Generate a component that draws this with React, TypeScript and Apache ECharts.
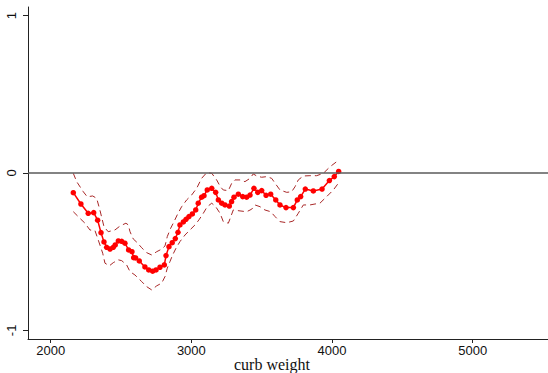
import React, { useEffect, useRef } from "react";
import * as echarts from "echarts";

const xTicks = [2000, 3000, 4000, 5000];
const yTicks = [-1, 0, 1];
const xTitle = "curb weight";

const fitX = [2161, 2215, 2267, 2306, 2334, 2358, 2379, 2398, 2422, 2445, 2459, 2481, 2505, 2528, 2554, 2578, 2590, 2604, 2630, 2670, 2697, 2725, 2749, 2777, 2808, 2820, 2841, 2864, 2886, 2905, 2919, 2943, 2962, 2983, 3007, 3031, 3049, 3073, 3090, 3113, 3145, 3173, 3192, 3216, 3239, 3270, 3286, 3303, 3334, 3365, 3393, 3417, 3445, 3472, 3500, 3531, 3564, 3600, 3630, 3673, 3725, 3753, 3777, 3810, 3867, 3929, 3981, 4016, 4047];
const fitY = [-0.125, -0.197, -0.256, -0.252, -0.3, -0.379, -0.438, -0.472, -0.483, -0.472, -0.457, -0.432, -0.434, -0.446, -0.489, -0.5, -0.538, -0.54, -0.559, -0.597, -0.616, -0.624, -0.616, -0.599, -0.584, -0.525, -0.468, -0.443, -0.417, -0.377, -0.33, -0.311, -0.294, -0.277, -0.26, -0.235, -0.192, -0.154, -0.144, -0.108, -0.097, -0.123, -0.171, -0.192, -0.203, -0.21, -0.182, -0.154, -0.135, -0.15, -0.154, -0.14, -0.097, -0.123, -0.112, -0.142, -0.135, -0.171, -0.203, -0.22, -0.22, -0.171, -0.15, -0.102, -0.114, -0.102, -0.048, -0.023, 0.01];

const upperX = [2161, 2185, 2232, 2260, 2299, 2327, 2350, 2379, 2409, 2457, 2493, 2535, 2552, 2564, 2587, 2616, 2647, 2682, 2718, 2754, 2789, 2813, 2829, 2853, 2877, 2903, 2931, 2967, 3002, 3038, 3073, 3109, 3145, 3180, 3206, 3227, 3263, 3287, 3310, 3346, 3381, 3417, 3440, 3465, 3500, 3536, 3571, 3595, 3630, 3678, 3713, 3737, 3760, 3796, 3843, 3891, 3938, 3986, 4033, 4050];
const upperY = [-0.002, -0.055, -0.119, -0.151, -0.146, -0.161, -0.235, -0.341, -0.373, -0.362, -0.337, -0.319, -0.33, -0.373, -0.419, -0.443, -0.475, -0.506, -0.521, -0.5, -0.484, -0.463, -0.404, -0.351, -0.309, -0.26, -0.214, -0.171, -0.14, -0.097, -0.034, 0.002, -0.002, -0.044, -0.087, -0.108, -0.112, -0.065, -0.044, -0.044, -0.055, -0.034, -0.006, -0.019, -0.027, -0.023, -0.034, -0.065, -0.108, -0.123, -0.119, -0.087, -0.044, -0.019, -0.017, -0.017, -0.002, 0.04, 0.072, 0.086];

const lowerX = [2161, 2208, 2244, 2279, 2315, 2338, 2370, 2386, 2417, 2445, 2481, 2505, 2540, 2564, 2599, 2623, 2647, 2682, 2718, 2754, 2789, 2813, 2829, 2848, 2867, 2891, 2919, 2955, 2990, 3026, 3054, 3085, 3113, 3145, 3173, 3204, 3227, 3263, 3298, 3346, 3393, 3429, 3452, 3488, 3523, 3564, 3595, 3630, 3678, 3725, 3760, 3796, 3843, 3879, 3914, 3962, 4009, 4045];
const lowerY = [-0.246, -0.288, -0.319, -0.362, -0.366, -0.425, -0.51, -0.573, -0.59, -0.57, -0.552, -0.557, -0.584, -0.627, -0.648, -0.669, -0.69, -0.722, -0.743, -0.717, -0.7, -0.658, -0.605, -0.563, -0.521, -0.478, -0.436, -0.394, -0.362, -0.33, -0.298, -0.256, -0.214, -0.192, -0.214, -0.256, -0.309, -0.319, -0.235, -0.241, -0.246, -0.23, -0.203, -0.214, -0.235, -0.246, -0.277, -0.309, -0.316, -0.305, -0.256, -0.203, -0.203, -0.197, -0.192, -0.15, -0.108, -0.065];

const zip = (xs: number[], ys: number[]) => xs.map((x, i) => [x, ys[i]]);

export default function App() {
  const ref = useRef<HTMLDivElement>(null);
  useEffect(() => {
    if (!ref.current) return;
    const chart = echarts.init(ref.current, null, { renderer: "svg" });
    const bandStyle = { color: "#a82828", width: 1, type: [6, 4] as any };
    chart.setOption({
      animation: false,
      grid: { left: 28, right: 0, top: 7, bottom: 34 },
      xAxis: {
        type: "value",
        min: 1839,
        max: 5535,
        splitLine: { show: false },
        axisLine: { onZero: false, lineStyle: { color: "#222", width: 1 } },
        axisTick: { customValues: xTicks, length: 4, lineStyle: { color: "#222" } },
        axisLabel: {
          customValues: xTicks,
          formatter: (v: number) => String(v),
          margin: 5,
          color: "#111",
          fontSize: 13,
          fontFamily: "Liberation Sans, Arial, sans-serif",
        },
      },
      yAxis: {
        type: "value",
        min: -1.055,
        max: 1.055,
        splitLine: { show: false },
        axisLine: { show: true, lineStyle: { color: "#222", width: 1 } },
        axisTick: { show: true, customValues: yTicks, length: 5, lineStyle: { color: "#222" } },
        axisLabel: {
          customValues: yTicks,
          formatter: (v: number) => String(v),
          rotate: 90,
          margin: 10,
          color: "#111",
          fontSize: 13,
          fontFamily: "Liberation Sans, Arial, sans-serif",
        },
      },
      graphic: [
        {
          type: "text",
          x: 272,
          y: 364,
          style: {
            text: xTitle,
            fontSize: 16,
            fontFamily: "Liberation Serif, Times New Roman, serif",
            fill: "#111",
            textAlign: "center",
            textVerticalAlign: "middle",
          },
        },
      ],
      series: [
        {
          type: "line",
          data: [],
          markLine: {
            silent: true,
            symbol: "none",
            label: { show: false },
            lineStyle: { color: "#5a5a5a", width: 1.5, type: "solid" },
            data: [{ yAxis: 0 }],
          },
        },
        {
          type: "line",
          data: zip(upperX, upperY),
          showSymbol: false,
          symbol: "none",
          lineStyle: bandStyle,
        },
        {
          type: "line",
          data: zip(lowerX, lowerY),
          showSymbol: false,
          symbol: "none",
          lineStyle: bandStyle,
        },
        {
          type: "line",
          data: zip(fitX, fitY),
          symbol: "circle",
          symbolSize: 5.5,
          itemStyle: { color: "#ff0000" },
          lineStyle: { color: "#ff0000", width: 1.5 },
        },
      ],
    });
    return () => chart.dispose();
  }, []);
  return (
    <div
      ref={ref}
      style={{ position: "absolute", left: 0, top: 0, width: 548, height: 373 }}
    />
  );
}
